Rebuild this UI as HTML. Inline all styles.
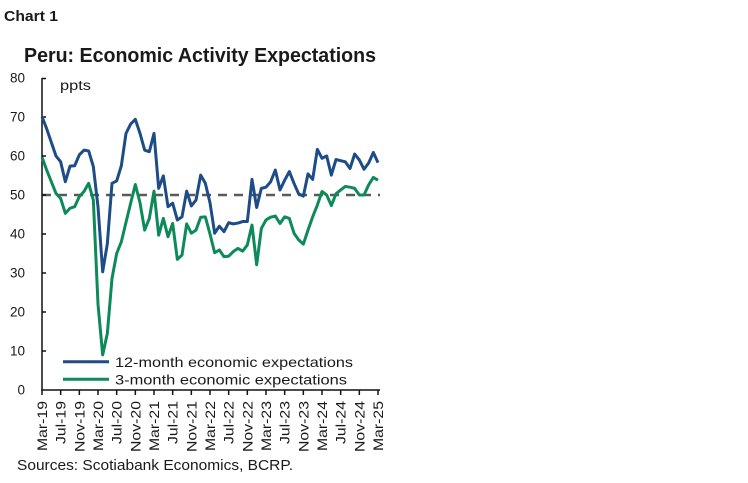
<!DOCTYPE html>
<html><head><meta charset="utf-8"><style>
html,body{margin:0;padding:0;background:#fff;}
svg{display:block;}
text{font-family:"Liberation Sans",Arial,sans-serif;fill:#1a1a1a;}
</style></head><body>
<svg width="748" height="483" viewBox="0 0 748 483" xmlns="http://www.w3.org/2000/svg">
<rect width="748" height="483" fill="#fff"/>
<text x="4" y="21" font-size="14.5" font-weight="bold" textLength="54" lengthAdjust="spacingAndGlyphs">Chart 1</text>
<text x="24" y="62" font-size="20" font-weight="bold" textLength="352" lengthAdjust="spacingAndGlyphs">Peru: Economic Activity Expectations</text>
<text x="60" y="90" font-size="13.5" textLength="31" lengthAdjust="spacingAndGlyphs">ppts</text>
<g font-size="13.5" text-anchor="end">
<text x="25" y="82.5">80</text>
<text x="25" y="121.5">70</text>
<text x="25" y="160.5">60</text>
<text x="25" y="199.5">50</text>
<text x="25" y="238.5">40</text>
<text x="25" y="277.5">30</text>
<text x="25" y="316.5">20</text>
<text x="25" y="355.5">10</text>
<text x="25" y="394.5">0</text>
</g>
<line x1="42" y1="195" x2="380" y2="195" stroke="#5a5a5a" stroke-width="2.5" stroke-dasharray="9 7"/>
<g stroke="#111" stroke-width="1.5">
<line x1="42" y1="78" x2="42" y2="390.7"/>
<line x1="41.3" y1="390" x2="380" y2="390"/>
<line x1="42" y1="78.5" x2="46" y2="78.5"/>
<line x1="42" y1="117" x2="46" y2="117"/>
<line x1="42" y1="156" x2="46" y2="156"/>
<line x1="42" y1="195" x2="46" y2="195"/>
<line x1="42" y1="234" x2="46" y2="234"/>
<line x1="42" y1="273" x2="46" y2="273"/>
<line x1="42" y1="312" x2="46" y2="312"/>
<line x1="42" y1="351" x2="46" y2="351"/>
<line x1="60.67" y1="390" x2="60.67" y2="395"/>
<line x1="42" y1="390" x2="42" y2="395"/>
<line x1="79.33" y1="390" x2="79.33" y2="395"/>
<line x1="98" y1="390" x2="98" y2="395"/>
<line x1="116.67" y1="390" x2="116.67" y2="395"/>
<line x1="135.33" y1="390" x2="135.33" y2="395"/>
<line x1="154" y1="390" x2="154" y2="395"/>
<line x1="172.67" y1="390" x2="172.67" y2="395"/>
<line x1="191.33" y1="390" x2="191.33" y2="395"/>
<line x1="210" y1="390" x2="210" y2="395"/>
<line x1="228.67" y1="390" x2="228.67" y2="395"/>
<line x1="247.33" y1="390" x2="247.33" y2="395"/>
<line x1="266" y1="390" x2="266" y2="395"/>
<line x1="284.67" y1="390" x2="284.67" y2="395"/>
<line x1="303.33" y1="390" x2="303.33" y2="395"/>
<line x1="322" y1="390" x2="322" y2="395"/>
<line x1="340.67" y1="390" x2="340.67" y2="395"/>
<line x1="359.33" y1="390" x2="359.33" y2="395"/>
<line x1="378" y1="390" x2="378" y2="395"/>
</g>
<g transform="translate(42,390) scale(4.6667,-3.9)">
<polyline fill="none" stroke="#0e8a5a" stroke-width="3" vector-effect="non-scaling-stroke" stroke-linejoin="round" points="0,59.7 1,56.4 2,53.4 3,50.4 4,49.1 5,45.3 6,46.6 7,47 8,49.6 9,50.9 10,53 11,48.7 12,22 13,9 14,14.5 15,28.6 16,35 17,38 18,43 19,47.9 20,52.7 21,48 22,41 23,44 24,51 25,39.7 26,44 27,39.3 28,42.7 29,33.5 30,34.6 31,42.6 32,40.2 33,41 34,44.3 35,44.4 36,40 37,35.2 38,35.9 39,34.2 40,34.3 41,35.5 42,36.3 43,35.6 44,37.2 45,42.3 46,32.1 47,41.4 48,43.6 49,44.3 50,44.6 51,42.7 52,44.4 53,44 54,40.2 55,38.5 56,37.4 57,41 58,44.4 59,47.4 60,50.9 61,50 62,47.3 63,50.3 64,51.3 65,52.2 66,52 67,51.7 68,50 69,50 70,52.6 71,54.5 72,53.8"/>
<polyline fill="none" stroke="#1d4c87" stroke-width="3" vector-effect="non-scaling-stroke" stroke-linejoin="round" points="0,70.1 1,67 2,63.5 3,60 4,58.5 5,53.4 6,57.4 7,57.5 8,60.3 9,61.5 10,61.3 11,57.3 12,47 13,30.3 14,37.5 15,53 16,53.6 17,57.5 18,65.8 19,68.2 20,69.4 21,65.8 22,61.5 23,61.1 24,65.8 25,51.7 26,54.9 27,47 28,47.9 29,43.6 30,44.4 31,51 32,47.2 33,48.7 34,55.1 35,53 36,48 37,40.2 38,42 39,40.6 40,42.9 41,42.6 42,42.8 43,43.2 44,43.2 45,54 46,46.8 47,51.7 48,52 49,53.4 50,56.4 51,51.3 52,53.8 53,56 54,53 55,50.3 56,49.7 57,55.4 58,54 59,61.7 60,59.4 61,60 62,55.1 63,59.1 64,58.8 65,58.5 66,56.8 67,60.5 68,59 69,56.6 70,58.2 71,60.9 72,58.3"/>
</g>
<line x1="63" y1="361.7" x2="109" y2="361.7" stroke="#1d4c87" stroke-width="3"/>
<line x1="63" y1="379.3" x2="109" y2="379.3" stroke="#0e8a5a" stroke-width="3"/>
<text x="115" y="366.8" font-size="14" textLength="238" lengthAdjust="spacingAndGlyphs">12-month economic expectations</text>
<text x="115" y="384.4" font-size="14" textLength="232" lengthAdjust="spacingAndGlyphs">3-month economic expectations</text>
<g font-size="14" text-anchor="end" lengthAdjust="spacingAndGlyphs">
<text transform="translate(47,401) rotate(-90)" textLength="50" lengthAdjust="spacingAndGlyphs">Mar-19</text>
<text transform="translate(65.7,401) rotate(-90)" textLength="43" lengthAdjust="spacingAndGlyphs">Jul-19</text>
<text transform="translate(84.3,401) rotate(-90)" textLength="51" lengthAdjust="spacingAndGlyphs">Nov-19</text>
<text transform="translate(103,401) rotate(-90)" textLength="50" lengthAdjust="spacingAndGlyphs">Mar-20</text>
<text transform="translate(121.7,401) rotate(-90)" textLength="43" lengthAdjust="spacingAndGlyphs">Jul-20</text>
<text transform="translate(140.3,401) rotate(-90)" textLength="51" lengthAdjust="spacingAndGlyphs">Nov-20</text>
<text transform="translate(159,401) rotate(-90)" textLength="50" lengthAdjust="spacingAndGlyphs">Mar-21</text>
<text transform="translate(177.7,401) rotate(-90)" textLength="43" lengthAdjust="spacingAndGlyphs">Jul-21</text>
<text transform="translate(196.3,401) rotate(-90)" textLength="51" lengthAdjust="spacingAndGlyphs">Nov-21</text>
<text transform="translate(215,401) rotate(-90)" textLength="50" lengthAdjust="spacingAndGlyphs">Mar-22</text>
<text transform="translate(233.7,401) rotate(-90)" textLength="43" lengthAdjust="spacingAndGlyphs">Jul-22</text>
<text transform="translate(252.3,401) rotate(-90)" textLength="51" lengthAdjust="spacingAndGlyphs">Nov-22</text>
<text transform="translate(271,401) rotate(-90)" textLength="50" lengthAdjust="spacingAndGlyphs">Mar-23</text>
<text transform="translate(289.7,401) rotate(-90)" textLength="43" lengthAdjust="spacingAndGlyphs">Jul-23</text>
<text transform="translate(308.3,401) rotate(-90)" textLength="51" lengthAdjust="spacingAndGlyphs">Nov-23</text>
<text transform="translate(327,401) rotate(-90)" textLength="50" lengthAdjust="spacingAndGlyphs">Mar-24</text>
<text transform="translate(345.7,401) rotate(-90)" textLength="43" lengthAdjust="spacingAndGlyphs">Jul-24</text>
<text transform="translate(364.3,401) rotate(-90)" textLength="51" lengthAdjust="spacingAndGlyphs">Nov-24</text>
<text transform="translate(383,401) rotate(-90)" textLength="50" lengthAdjust="spacingAndGlyphs">Mar-25</text>
</g>
<text x="17" y="470" font-size="14.5" textLength="276" lengthAdjust="spacingAndGlyphs">Sources: Scotiabank Economics, BCRP.</text>
</svg>
</body></html>
